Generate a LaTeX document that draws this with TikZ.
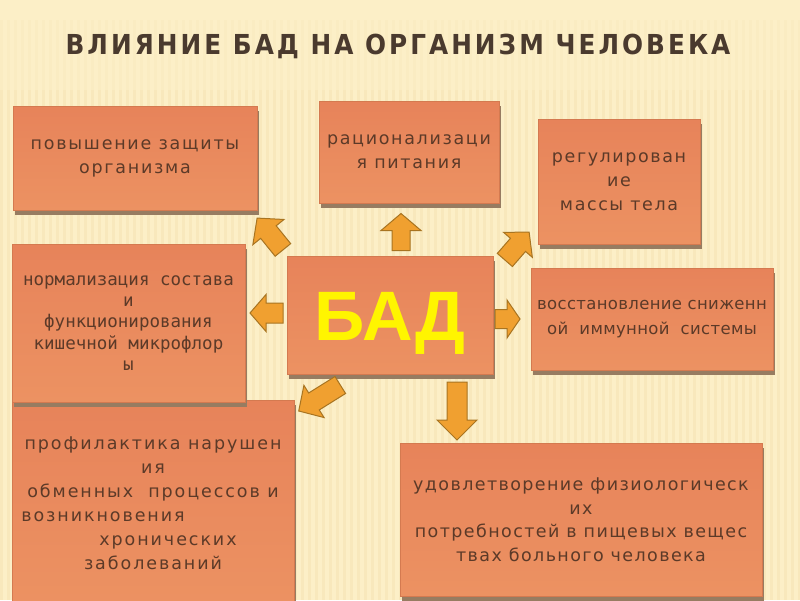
\documentclass[tikz,border=0pt]{standalone}
\usepackage{fontspec}
\usetikzlibrary{shadows}
\setmainfont{DejaVu Sans}
\newfontfamily\titlefont[LetterSpace=11]{DejaVu Sans Condensed Bold}
\newfontfamily\boxmono{DejaVu Sans Mono}
\newfontfamily\badfont{Liberation Sans}
\newcommand\lsp[1]{\addfontfeatures{LetterSpace=#1}}
\definecolor{bg}{HTML}{FCEFC7}
\definecolor{stripec}{HTML}{F3DDA8}
\definecolor{boxtop}{HTML}{E7835A}
\definecolor{boxbot}{HTML}{EC9262}
\definecolor{boxedge}{HTML}{D47A50}
\definecolor{shadowc}{HTML}{977C61}
\definecolor{txt}{HTML}{5C3A28}
\definecolor{titlec}{HTML}{4A3A2E}
\definecolor{badc}{HTML}{FFF500}
\definecolor{arrfill}{HTML}{F0A030}
\definecolor{arredge}{HTML}{A87421}
\tikzset{
  box/.style={draw=boxedge, line width=0.4pt, top color=boxtop, bottom color=boxbot,
    text=txt, align=center, inner sep=0pt,
    drop shadow={shadow xshift=1.5pt, shadow yshift=-5pt, fill=shadowc, opacity=1}},
  bt/.style={font=\fontsize{17.5}{24}\selectfont\lsp{#1}},
  arrstyle/.style={fill=arrfill, draw=arredge, line width=1pt, line join=miter},
  pics/barrow/.style args={#1/#2/#3/#4}{code={
    \draw[arrstyle] ({-#1/2},{-#2/2}) -- ({#1/2-#4},{-#2/2}) -- ({#1/2-#4},{-#3/2})
      -- ({#1/2},0) -- ({#1/2-#4},{#3/2}) -- ({#1/2-#4},{#2/2}) -- ({-#1/2},{#2/2}) -- cycle;
  }}
}
\begin{document}
\begin{tikzpicture}[x=1pt,y=-1pt]
\useasboundingbox (0,0) rectangle (800,600);
\fill[bg] (0,0) rectangle (800,600);
\foreach \x in {0,7,...,800} {\fill[stripec,opacity=0.15] (\x,20) rectangle (\x+3,90);}
\foreach \x in {0,7,...,800} {\fill[stripec,opacity=0.35] (\x,90) rectangle (\x+3,600);}

\node[text=titlec, font=\titlefont\fontsize{27.5}{30}\selectfont] (title) at (398,46) {ВЛИЯНИЕ БАД НА ОРГАНИЗМ ЧЕЛОВЕКА};

% boxes
\node[box, bt=11, minimum width=282pt, minimum height=206pt] (b7) at (153,503)
  {профилактика нарушен\\ия\\обменных\ \ процессов и\\возникновения\makebox[100pt]{}\\\makebox[30pt]{}хронических\\заболеваний};
\node[box, bt=10, minimum width=244pt, minimum height=104pt] (b1) at (135,158)
  {повышение защиты\\организма};
\node[box, bt=9.5, minimum width=180pt, minimum height=102pt] (b2) at (409,152)
  {рационализаци\\я питания};
\node[box, bt=9, minimum width=162pt, minimum height=125pt] (b3) at (619,181.5)
  {регулирован\\ие\\массы тела};
\node[box, minimum width=233pt, minimum height=158pt, font=\boxmono\fontsize{17.5}{21.3}\selectfont] (b4) at (128.5,323)
  {нормализация состава\\и\\функционирования \\кишечной микрофлор\\ы};
\node[box, minimum width=206pt, minimum height=118pt, text=badc, text height=50pt, text depth=0pt,
  font=\badfont\bfseries\fontsize{70}{70}\selectfont] (bad) at (390,315) {БАД};
\node[box, minimum width=242pt, minimum height=102pt, font=\fontsize{16.5}{25}\selectfont\lsp{2}] (b6) at (652,319)
  {восстановление сниженн\\ой\ \ иммунной\ \ системы};
\node[box, minimum width=362pt, minimum height=153pt, font=\fontsize{17.5}{23.5}\selectfont\lsp{8}] (b8) at (581,519.5)
  {удовлетворение физиологическ\\их\\потребностей в пищевых вещес\\твах больного человека};

% block arrows
\pic[rotate=90] (aup) at (401,232) {barrow={37/18/40/17}};
\pic[rotate=129] (aul) at (270,234) {barrow={41/20/40/18}};
\pic[rotate=49] (aur) at (517,246) {barrow={37/20/38/17}};
\pic[rotate=180] (al) at (266.5,313) {barrow={33/20/37/16}};
\pic[rotate=0] (ar) at (507.5,319) {barrow={25/19/38/13}};
\pic[rotate=212] (adl) at (319.5,398) {barrow={49/20/38/18}};
\pic[rotate=-90] (ad) at (457,411) {barrow={58/20/40/20}};
\end{tikzpicture}
\end{document}
